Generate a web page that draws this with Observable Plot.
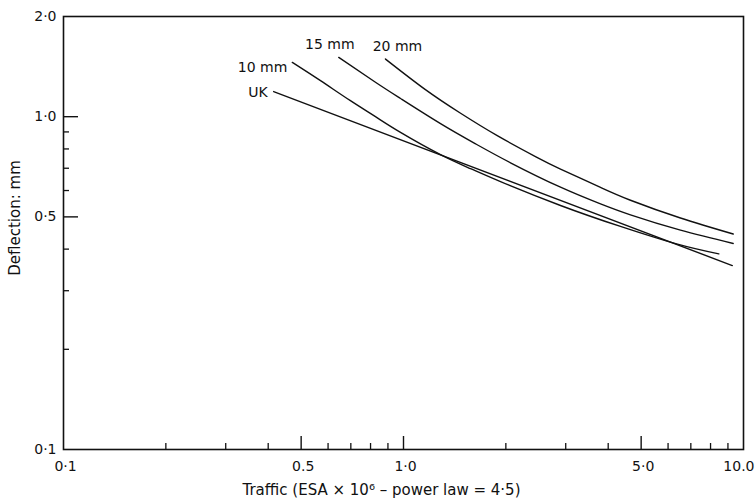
<!DOCTYPE html>
<html><head><meta charset="utf-8">
<script src="https://cdn.jsdelivr.net/npm/d3@7"></script>
<script src="https://cdn.jsdelivr.net/npm/@observablehq/plot@0.6"></script>
<style>
html,body{margin:0;padding:0;background:#fff;}
</style></head><body><div id="chart"></div>
<script>
// ---- data ----
const seriesNames = ["UK", "10 mm", "15 mm", "20 mm"];
const ukX = [0.415, 9.27];
const ukY = [1.19, 0.357];
const mm10X = [0.471, 0.570, 0.698, 0.827, 0.980, 1.285, 1.574, 1.929, 2.896, 4.346, 6.394, 8.461];
const mm10Y = [1.456, 1.283, 1.117, 1.000, 0.897, 0.769, 0.698, 0.638, 0.541, 0.468, 0.414, 0.387];
const mm15X = [0.645, 0.827, 0.980, 1.285, 1.628, 2.064, 2.896, 3.797, 4.651, 6.525, 9.327];
const mm15Y = [1.507, 1.269, 1.134, 0.953, 0.829, 0.727, 0.614, 0.547, 0.507, 0.456, 0.416];
const mm20X = [0.885, 1.160, 1.472, 1.887, 2.444, 2.896, 3.797, 4.651, 6.525, 9.327];
const mm20Y = [1.490, 1.206, 1.024, 0.877, 0.759, 0.696, 0.613, 0.561, 0.496, 0.444];

const xMajorTicks = [0.5, 1, 5];
const xMinorTicks = [0.2, 0.3, 0.4, 0.6, 0.7, 0.8, 0.9, 2, 3, 4, 6, 7, 8, 9];
const yMajorTicks = [0.5, 1];
const yMinorTicks = [0.2, 0.3, 0.4, 0.6, 0.7, 0.8, 0.9];
const xTickValues = [0.1, 0.5, 1, 5];
const xTickLabels = ["0·1", "0.5", "1·0", "5·0"];
const xLastTickValue = 10;
const xLastTickLabel = "10.0";
const yTickValues = [0.1, 0.5, 1, 2];
const yTickLabels = ["0·1", "0·5", "1·0", "2·0"];
const xTitle = "Traffic (ESA × 10⁶ – power law = 4·5)";
const yTitle = "Deflection: mm";

// ---- build table ----
const seriesXs = [ukX, mm10X, mm15X, mm20X];
const seriesYs = [ukY, mm10Y, mm15Y, mm20Y];
const rows = [];
seriesNames.forEach((name, s) => {
  seriesXs[s].forEach((x, i) => rows.push({series: name, x, y: seriesYs[s][i]}));
});
const firstPoints = seriesNames.map((name, s) => ({series: name, x: seriesXs[s][0], y: seriesYs[s][0]}));

// ---- layout ----
const W = 755, H = 500, mL = 63, mR = 12, mT = 16, mB = 51;
const frameW = W - mL - mR, frameH = H - mT - mB;
const ink = "#111";
const font = "DejaVu Sans";

const labelStyle = {
  "UK":    {textAnchor: "end",    dx: -6,  dy: 1},
  "10 mm": {textAnchor: "end",    dx: -5,  dy: 5},
  "15 mm": {textAnchor: "middle", dx: -9,  dy: -13},
  "20 mm": {textAnchor: "middle", dx: 12,  dy: -13}
};

const chart = Plot.plot({
  width: W, height: H,
  marginLeft: mL, marginRight: mR, marginTop: mT, marginBottom: mB,
  style: {fontFamily: font, fontSize: "14px", background: "white", color: ink},
  x: {type: "log", domain: [0.1, 10], axis: null},
  y: {type: "log", domain: [0.1, 2], axis: null},
  marks: [
    Plot.frame({stroke: ink, strokeWidth: 1.6}),
    Plot.ruleX(xMajorTicks, {x: d => d, insetTop: frameH - 13, stroke: ink, strokeWidth: 1.4}),
    Plot.ruleX(xMinorTicks, {x: d => d, insetTop: frameH - 6, stroke: ink, strokeWidth: 1.3}),
    Plot.ruleY(yMajorTicks, {y: d => d, insetRight: frameW - 15, stroke: ink, strokeWidth: 1.4}),
    Plot.ruleY(yMinorTicks, {y: d => d, insetRight: frameW - 6, stroke: ink, strokeWidth: 1.3}),
    Plot.line(rows, {x: "x", y: "y", z: "series", curve: "natural", stroke: ink, strokeWidth: 1.4}),
    ...firstPoints.map(p => Plot.text([p], {x: "x", y: "y", text: "series", fontSize: 14, fill: ink, ...labelStyle[p.series]})),
    Plot.text(xTickValues, {x: d => d, frameAnchor: "bottom", lineAnchor: "middle", dx: 2, dy: 17, text: (d, i) => xTickLabels[i], fontSize: 14, fill: ink}),
    Plot.text([xLastTickValue], {x: d => d, frameAnchor: "bottom", lineAnchor: "middle", textAnchor: "end", dx: 11, dy: 17, text: () => xLastTickLabel, fontSize: 14, fill: ink}),
    Plot.text(yTickValues, {y: d => d, frameAnchor: "left", lineAnchor: "middle", dx: -7, textAnchor: "end", text: (d, i) => yTickLabels[i], fontSize: 14, fill: ink}),
    Plot.text([xTitle], {frameAnchor: "bottom", lineAnchor: "middle", textAnchor: "middle", dx: -22, dy: 41, text: d => d, fontSize: 15, fill: ink}),
    Plot.text([yTitle], {frameAnchor: "left", lineAnchor: "middle", textAnchor: "middle", dx: -48, dy: -15, rotate: -90, text: d => d, fontSize: 15, fill: ink})
  ]
});
document.getElementById("chart").appendChild(chart);
</script>
</body></html>
